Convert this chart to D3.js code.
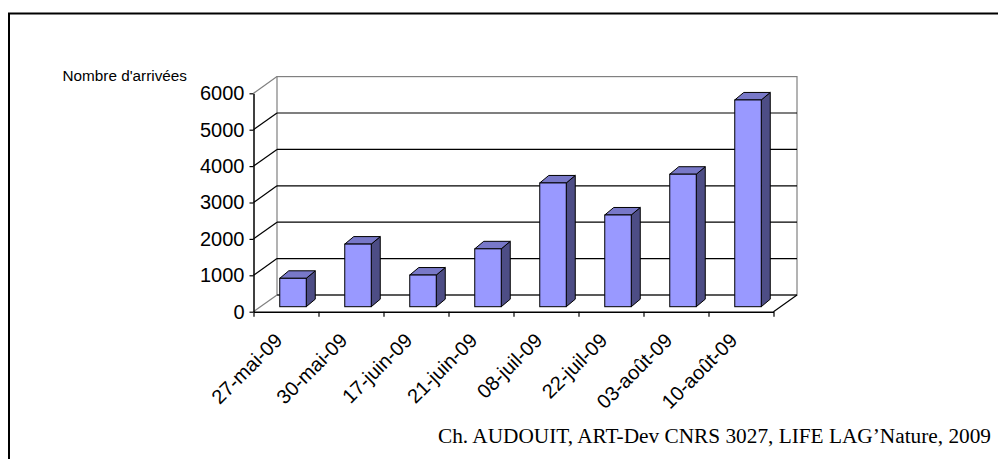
<!DOCTYPE html>
<html><head><meta charset="utf-8">
<script src="https://cdn.jsdelivr.net/npm/d3@7"></script>
<style>body{margin:0;background:#fff;} svg{display:block;}</style>
</head><body>
<svg id="c" width="998" height="459"></svg>
<script>
const categories = ["27-mai-09","30-mai-09","17-juin-09","21-juin-09","08-juil-09","22-juil-09","03-août-09","10-août-09"];
const values = [780, 1720, 870, 1590, 3400, 2520, 3640, 5680];
const yTicks = [0,1000,2000,3000,4000,5000,6000];
const yTitle = "Nombre d'arrivées";
const caption = "Ch. AUDOUIT, ART-Dev CNRS 3027, LIFE LAG\u2019Nature, 2009";

const svg = d3.select("#c");
const W = 998, H = 459;
const x0 = 253.5, x1 = 773.5, yTop = 93.3, yBot = 311.7;
const DX = 23.5, DY = -16.7;          // wall depth
const BX = 7, BY = -5;                // bar front offset
const bdx = 9, bdy = -7.5;            // bar depth
const barW = 26.5;

const x = d3.scaleBand().domain(categories).range([x0, x1]);
const y = d3.scaleLinear().domain([0, 6000]).range([yBot, yTop]);

// outer frame
svg.append("path").attr("d", `M9,${H}V13.5H${W}`).attr("fill","none").attr("stroke","#000").attr("stroke-width",2);

// back wall
svg.append("rect").attr("x", x0+DX).attr("y", yTop+DY).attr("width", x1-x0).attr("height", yBot-yTop)
  .attr("fill","#fff").attr("stroke","#808080").attr("stroke-width",1.2);
// gridlines on back wall
svg.selectAll(".grid").data(yTicks.filter(t=>t<6000)).enter().append("line")
  .attr("x1", x0+DX).attr("x2", x1+DX).attr("y1", d=>y(d)+DY).attr("y2", d=>y(d)+DY)
  .attr("stroke","#000").attr("stroke-width",1.2);
// side wall diagonals
svg.selectAll(".diag").data(yTicks).enter().append("line")
  .attr("x1", x0).attr("x2", x0+DX).attr("y1", d=>y(d)).attr("y2", d=>y(d)+DY)
  .attr("stroke", d=> (d===0||d===6000) ? "#808080" : "#000").attr("stroke-width",1.2);
// floor right edge
svg.append("line").attr("x1", x1).attr("y1", yBot).attr("x2", x1+DX).attr("y2", yBot+DY)
  .attr("stroke","#000").attr("stroke-width",1.2);

// bars
const bars = svg.append("g").selectAll("g").data(categories).enter().append("g");
bars.each(function(c, i){
  const g = d3.select(this);
  const v = values[i];
  const fx = x(c) + x.bandwidth()/2 - barW/2 + BX;
  const fy = y(v) + BY, fb = y(0) + BY;
  g.append("path").attr("d", `M${fx+barW},${fy}L${fx+barW+bdx},${fy+bdy}L${fx+barW+bdx},${fb+bdy}L${fx+barW},${fb}Z`)
    .attr("fill","#4D4D85").attr("stroke","#000").attr("stroke-width",1).attr("stroke-linejoin","round");
  g.append("path").attr("d", `M${fx},${fy}L${fx+bdx},${fy+bdy}L${fx+barW+bdx},${fy+bdy}L${fx+barW},${fy}Z`)
    .attr("fill","#7878C8").attr("stroke","#000").attr("stroke-width",1).attr("stroke-linejoin","round");
  g.append("rect").attr("x", fx).attr("y", fy).attr("width", barW).attr("height", fb-fy)
    .attr("fill","#9999FF").attr("stroke","#000").attr("stroke-width",1);
});

// y axis
const yAxis = svg.append("g").attr("transform", `translate(${x0},0)`)
  .call(d3.axisLeft(y).tickValues(yTicks).tickSize(4).tickSizeOuter(0).tickPadding(5).tickFormat(d3.format("d")));
yAxis.select(".domain").attr("stroke","#000").attr("stroke-width",1.5);
yAxis.selectAll(".tick line").attr("stroke","#000").attr("stroke-width",1.2);
yAxis.selectAll("text").attr("font-family","Arial, 'Liberation Sans', sans-serif").attr("font-size",20).attr("fill","#000");

// x axis (ticks at category boundaries)
const bounds = d3.range(categories.length+1);
const xb = d3.scaleLinear().domain([0, categories.length]).range([x0, x1]);
const xAxisT = svg.append("g").attr("transform", `translate(0,${yBot})`)
  .call(d3.axisBottom(xb).tickValues(bounds).tickSize(5).tickSizeOuter(0).tickFormat(""));
xAxisT.select(".domain").attr("stroke","#000").attr("stroke-width",1.5);
xAxisT.selectAll(".tick line").attr("stroke","#000").attr("stroke-width",1.2);

const xAxisL = svg.append("g").attr("transform", `translate(0,${yBot})`)
  .call(d3.axisBottom(x).tickSize(0).tickPadding(0));
xAxisL.select(".domain").remove();
xAxisL.selectAll(".tick text")
  .attr("font-family","Arial, 'Liberation Sans', sans-serif").attr("font-size",20).attr("fill","#000")
  .attr("text-anchor","end").attr("dy",0).attr("y",0)
  .attr("transform","translate(-2.5,30) rotate(-45)");

// y title
svg.append("text").attr("x", 62.5).attr("y", 80.5).text(yTitle)
  .attr("font-family","Arial, 'Liberation Sans', sans-serif").attr("font-size",15.3).attr("fill","#000");

// caption
svg.append("text").attr("x", 438).attr("y", 443).text(caption)
  .attr("font-family","'Times New Roman', 'Liberation Serif', serif").attr("font-size",21.3).attr("fill","#000");
</script>
</body></html>
